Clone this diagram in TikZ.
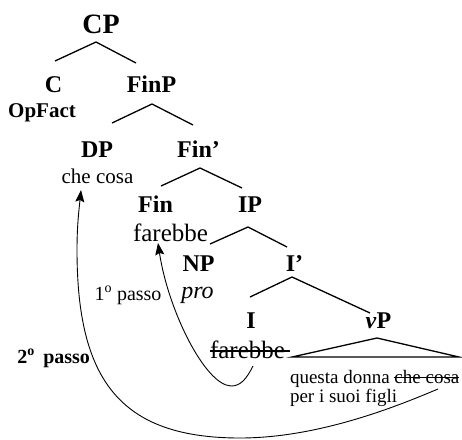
\documentclass[tikz,border=0pt]{standalone}
\usepackage{fontspec}
\setmainfont{Liberation Serif}
\usetikzlibrary{arrows.meta}
\newcommand\fsz[1]{\fontsize{#1}{#1}\selectfont}
\newcommand\strk[2][0pt]{\setbox0\hbox{#2}\rlap{\rule[0.25em]{\dimexpr\wd0+#1\relax}{0.055em}}\box0}
\begin{document}
\begin{tikzpicture}[x=1pt,y=-1pt,
  lab/.style={inner sep=0pt,outer sep=0pt,anchor=base},
  cat/.style={lab,font=\fsz{24}\bfseries},
  tree/.style={line width=1.3pt},
  move/.style={line width=0.9pt,-{Stealth[length=12pt,width=9pt,inset=2pt]}}]
\useasboundingbox (0,0) rectangle (462,439);
% labels
\node[lab,font=\fsz{28}\bfseries] (CP) at (101,33) {CP};
\node[cat] (C) at (53.5,92) {C};
\node[cat] (FinP) at (151.5,92) {FinP};
\node[lab,font=\fsz{21}\bfseries] (Op) at (42,117) {OpFact};
\node[cat] (DP) at (97,157) {DP};
\node[cat] (Finb) at (198.5,157) {Fin’};
\node[lab,font=\fsz{21}] (chc) at (97.5,183) {che cosa};
\node[cat] (Fin) at (155.5,212) {Fin};
\node[cat] (IP) at (250,212) {IP};
\node[lab,font=\fsz{25}] (far) at (170.5,241) {farebbe};
\node[cat] (NP) at (198.5,271) {NP};
\node[cat] (Ib) at (294.5,271) {I’};
\node[lab,font=\fsz{24}\itshape] (pro) at (197.5,298) {pro};
\node[cat] (I) at (251,328) {I};
\node[cat] (vP) at (378.5,328) {\textit{v}P};
\node[lab,anchor=base west,font=\fsz{25}] (far2) at (210,358) {\strk[5pt]{farebbe}};
\node[lab,anchor=base west,font=\fsz{19}] (vt1) at (290,383) {questa donna \strk{che cosa}};
\node[lab,anchor=base west,font=\fsz{19}] (vt2) at (290,402) {per i suoi figli};
\node[lab,font=\fsz{20}] (p1) at (128,300) {1\textsuperscript{o} passo};
\node[lab,anchor=base east,font=\fsz{20}\bfseries] (p2) at (90,363) {2\textsuperscript{o}\, passo};
% tree edge points
\coordinate (a1) at (96,42);  \coordinate (l1) at (55,61);  \coordinate (r1) at (136,63);
\coordinate (a2) at (152,104); \coordinate (l2) at (112,123); \coordinate (r2) at (193,125);
\coordinate (a3) at (200,168); \coordinate (l3) at (161,186); \coordinate (r3) at (242,188);
\coordinate (a4) at (248,227); \coordinate (l4) at (210,244); \coordinate (r4) at (287,247);
\coordinate (a5) at (292,277); \coordinate (l5) at (250,297); \coordinate (r5) at (370,313);
\coordinate (t0) at (377,338); \coordinate (tl) at (292,357); \coordinate (tr) at (459,357);
\draw[tree] (l1) -- (a1) -- (r1);
\draw[tree] (l2) -- (a2) -- (r2);
\draw[tree] (l3) -- (a3) -- (r3);
\draw[tree] (l4) -- (a4) -- (r4);
\draw[tree] (l5) -- (a5) -- (r5);
\draw[tree,line join=miter] (tl) -- (t0) -- (tr) -- cycle;
% movement arrows
\coordinate (s1) at (253,366); \coordinate (m1) at (231,386); \coordinate (e1) at (158,243);
\draw[move] (s1) .. controls (246,380) and (240,386) .. (m1)
  .. controls (205,385) and (168,310) .. (e1);
\coordinate (s2) at (438,389); \coordinate (m2) at (240,438); \coordinate (n2) at (77,250); \coordinate (e2) at (81,190);
\draw[move] (s2) .. controls (400,405) and (320,438) .. (m2)
  .. controls (120,438) and (77,380) .. (n2)
  .. controls (77,225) and (79,210) .. (e2);
\end{tikzpicture}
\end{document}
